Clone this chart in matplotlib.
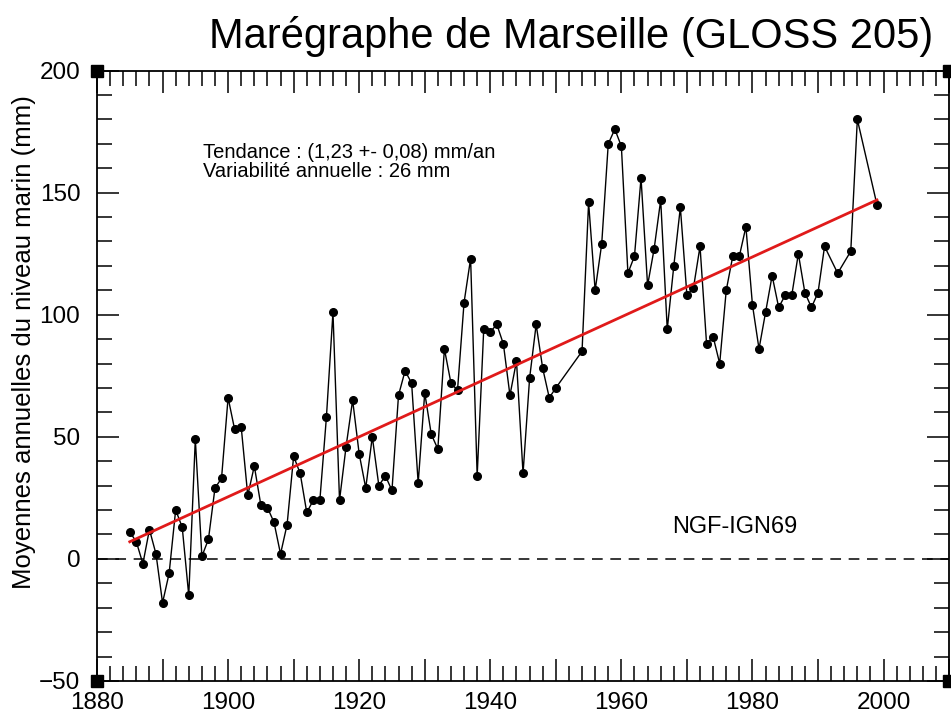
import matplotlib
matplotlib.use("Agg")
import matplotlib.pyplot as plt
from matplotlib.ticker import MultipleLocator, FuncFormatter

plt.rcParams['font.family'] = ['Liberation Sans', 'DejaVu Sans']

# Annual mean sea level, Marseille tide gauge (mm, NGF-IGN69)
years = [
    1885, 1886, 1887, 1888, 1889, 1890, 1891, 1892, 1893, 1894,
    1895, 1896, 1897, 1898, 1899, 1900, 1901, 1902, 1903, 1904,
    1905, 1906, 1907, 1908, 1909, 1910, 1911, 1912, 1913, 1914,
    1915, 1916, 1917, 1918, 1919, 1920, 1921, 1922, 1923, 1924,
    1925, 1926, 1927, 1928, 1929, 1930, 1931, 1932, 1933, 1934,
    1935, 1936, 1937, 1938, 1939, 1940, 1941, 1942, 1943, 1944,
    1945, 1946, 1947, 1948, 1949, 1950,
    1954, 1955, 1956, 1957, 1958, 1959, 1960, 1961, 1962, 1963,
    1964, 1965, 1966, 1967, 1968, 1969, 1970, 1971, 1972, 1973,
    1974, 1975, 1976, 1977, 1978, 1979, 1980, 1981, 1982, 1983,
    1984, 1985, 1986, 1987, 1988, 1989, 1990, 1991,
    1993, 1995, 1996, 1999,
]
sea_level = [
    11, 7, -2, 12, 2, -18, -6, 20, 13, -15,
    49, 1, 8, 29, 33, 66, 53, 54, 26, 38,
    22, 21, 15, 2, 14, 42, 35, 19, 24, 24,
    58, 101, 24, 46, 65, 43, 29, 50, 30, 34,
    28, 67, 77, 72, 31, 68, 51, 45, 86, 72,
    69, 105, 123, 34, 94, 93, 96, 88, 67, 81,
    35, 74, 96, 78, 66, 70,
    85, 146, 110, 129, 170, 176, 169, 117, 124, 156,
    112, 127, 147, 94, 120, 144, 108, 111, 128, 88,
    91, 80, 110, 124, 124, 136, 104, 86, 101, 116,
    103, 108, 108, 125, 109, 103, 109, 128,
    117, 126, 180, 145,
]

# linear trend end points (1.23 mm/an)
trend_years = [1885, 1999]
trend_values = [7, 147]

fig = plt.figure(figsize=(9.51, 7.13), dpi=100)
ax = fig.add_axes([0.102, 0.045, 0.896, 0.856])

ax.axhline(0, color='black', linestyle=(0, (7, 5)), linewidth=1.1, zorder=1)
ax.plot(years, sea_level, color='black', linewidth=1.0, marker='o',
        markersize=5.5, markerfacecolor='black', zorder=2)
ax.plot(trend_years, trend_values, color='#e01a1a', linewidth=2.0, zorder=3)

ax.set_xlim(1880, 2010)
ax.set_ylim(-50, 200)

ax.xaxis.set_major_locator(MultipleLocator(10))
ax.xaxis.set_minor_locator(MultipleLocator(2))
ax.xaxis.set_major_formatter(FuncFormatter(
    lambda v, p: f"{int(round(v))}" if int(round(v)) % 20 == 0 else ""))
ax.yaxis.set_major_locator(MultipleLocator(50))
ax.yaxis.set_minor_locator(MultipleLocator(10))

ax.tick_params(which='both', direction='in', top=True, right=True,
               width=1.1, colors='black')
ax.tick_params(which='major', length=15.5)
ax.tick_params(which='minor', length=10.5)
ax.tick_params(axis='x', which='major', labelsize=17.5, pad=8)
ax.tick_params(axis='y', which='major', labelsize=17.5, pad=12)
for s in ax.spines.values():
    s.set_linewidth(1.3)

# corner squares
for cx, cy in [(1880, 200), (1880, -50), (2010, 200), (2010, -50)]:
    ax.plot([cx], [cy], marker='s', color='black', markersize=8,
            clip_on=False, zorder=5)

ax.set_ylabel("Moyennes annuelles du niveau marin (mm)", fontsize=18.5)
ax.yaxis.set_label_coords(-0.072, 0.556)

fig.text(0.601, 0.949, "Marégraphe de Marseille (GLOSS 205)",
         fontsize=30, ha='center', va='center')

ax.text(0.124, 0.85, "Tendance : (1,23 +- 0,08) mm/an\nVariabilité annuelle : 26 mm",
        transform=ax.transAxes, fontsize=14.5, ha='left', va='center',
        linespacing=1.0)
ax.text(0.749, 0.252, "NGF-IGN69", transform=ax.transAxes, fontsize=17,
        ha='center', va='center')

fig.savefig("out.png", dpi=100)
